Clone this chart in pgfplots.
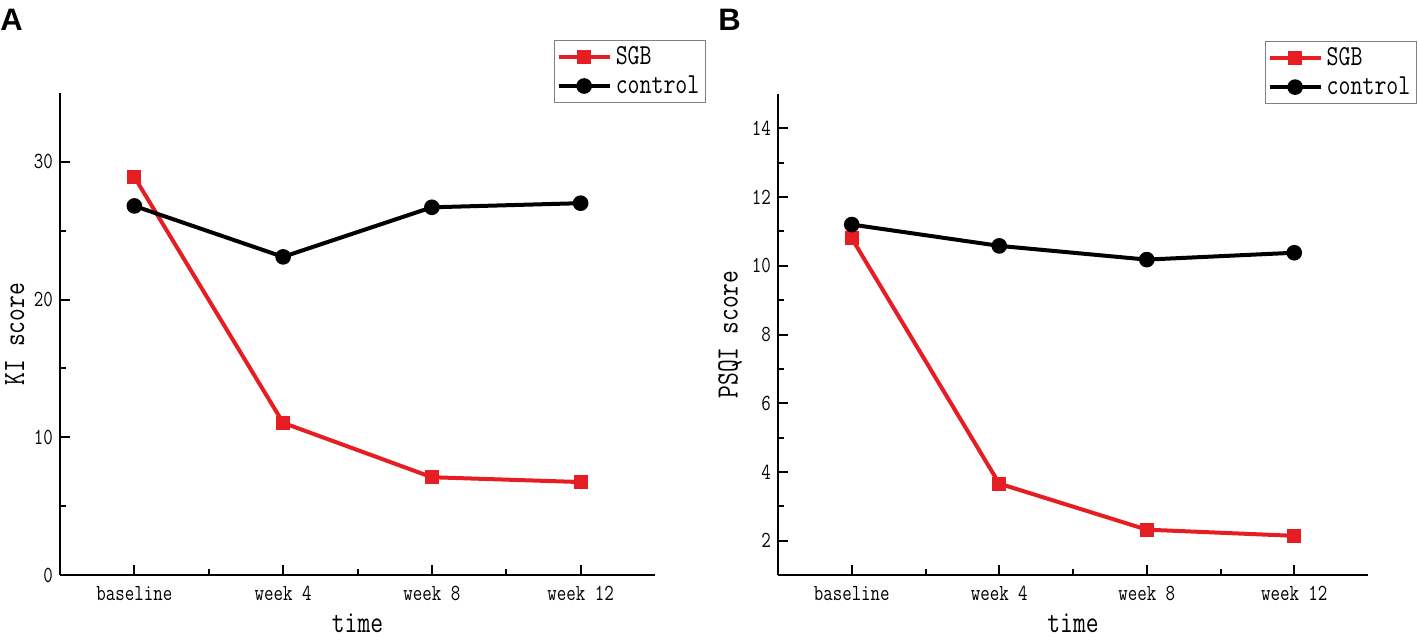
\documentclass[border=0pt]{standalone}
\usepackage{pgfplots}
\pgfplotsset{compat=1.18}
\usepackage{fontspec}
\setmainfont{Latin Modern Mono}[FakeStretch=0.8]
\newfontfamily\panelfont{Liberation Sans}
\definecolor{sgbred}{RGB}{230,30,36}
\pgfplotsset{
 panel/.style={
  scale only axis,
  axis x line*=bottom, axis y line*=left,
  axis line style={line width=1.2pt},
  xmin=-0.5, xmax=3.5, xtick={0,1,2,3},
  xticklabels={baseline,week 4,week 8,week 12},
  minor xtick={0.5,1.5,2.5},
  tick style={line width=1pt, black},
  major tick length=5pt, minor tick length=3pt,
  tick align=inside,
  ticklabel style={font=\fontsize{11.5}{13}\selectfont},
  xticklabel style={yshift=-2pt},
  /pgf/number format/assume math mode=true,
  label style={font=\fontsize{15.5}{17}\selectfont},
  legend style={draw=gray, line width=0.6pt, font=\fontsize{14.5}{16}\selectfont,
    anchor=north east, inner sep=1pt, row sep=0pt},
  legend cell align=left,
  legend image code/.code={\draw[mark repeat=2,mark phase=2,##1] plot coordinates {(0cm,0cm) (0.45cm,0cm) (0.9cm,0cm)};},
  every axis plot/.append style={line width=2pt},
 },
 sgb/.style={color=sgbred, mark=square*, mark size=2.5pt, mark options={solid}},
 ctl/.style={color=black, mark=*, mark size=2.9pt, mark options={solid}},
}
\begin{document}
\begin{tikzpicture}
\useasboundingbox (0,0) rectangle (709pt,319.5pt);
\node[anchor=west, font=\panelfont\bfseries\fontsize{15.5}{18}\selectfont, inner sep=0pt] at (0pt,309.5pt) {A};
\node[anchor=west, font=\panelfont\bfseries\fontsize{15.5}{18}\selectfont, inner sep=0pt] at (359pt,309.5pt) {B};
\begin{axis}[panel, width=297.5pt, height=241pt, at={(30pt,32pt)}, anchor=south west,
  ymin=0, ymax=35, ytick={0,10,20,30}, minor ytick={5,15,25},
  xlabel={time}, ylabel={KI score},
  xlabel style={at={(axis description cs:0.5,-0.1)}, anchor=center},
  ylabel style={at={(axis description cs:-0.076,0.5)}, anchor=center},
  legend style={at={(1.0857,1.11)}}]
\addplot[sgb] coordinates {(0,28.9) (1,11.05) (2,7.1) (3,6.75)};
\addlegendentry{SGB}
\addplot[ctl] coordinates {(0,26.8) (1,23.1) (2,26.7) (3,27.0)};
\addlegendentry{control}
\end{axis}
\begin{axis}[panel, width=295pt, height=240.5pt, at={(389pt,32pt)}, anchor=south west,
  ymin=1, ymax=15, ytick={2,4,...,14}, minor ytick={3,5,...,13},
  xlabel={time}, ylabel={PSQI score},
  xlabel style={at={(axis description cs:0.5,-0.1)}, anchor=center},
  ylabel style={at={(axis description cs:-0.081,0.5)}, anchor=center},
  legend style={at={(1.083,1.11)}}]
\addplot[sgb] coordinates {(0,10.8) (1,3.66) (2,2.32) (3,2.14)};
\addlegendentry{SGB}
\addplot[ctl] coordinates {(0,11.2) (1,10.58) (2,10.18) (3,10.38)};
\addlegendentry{control}
\end{axis}
\end{tikzpicture}
\end{document}
